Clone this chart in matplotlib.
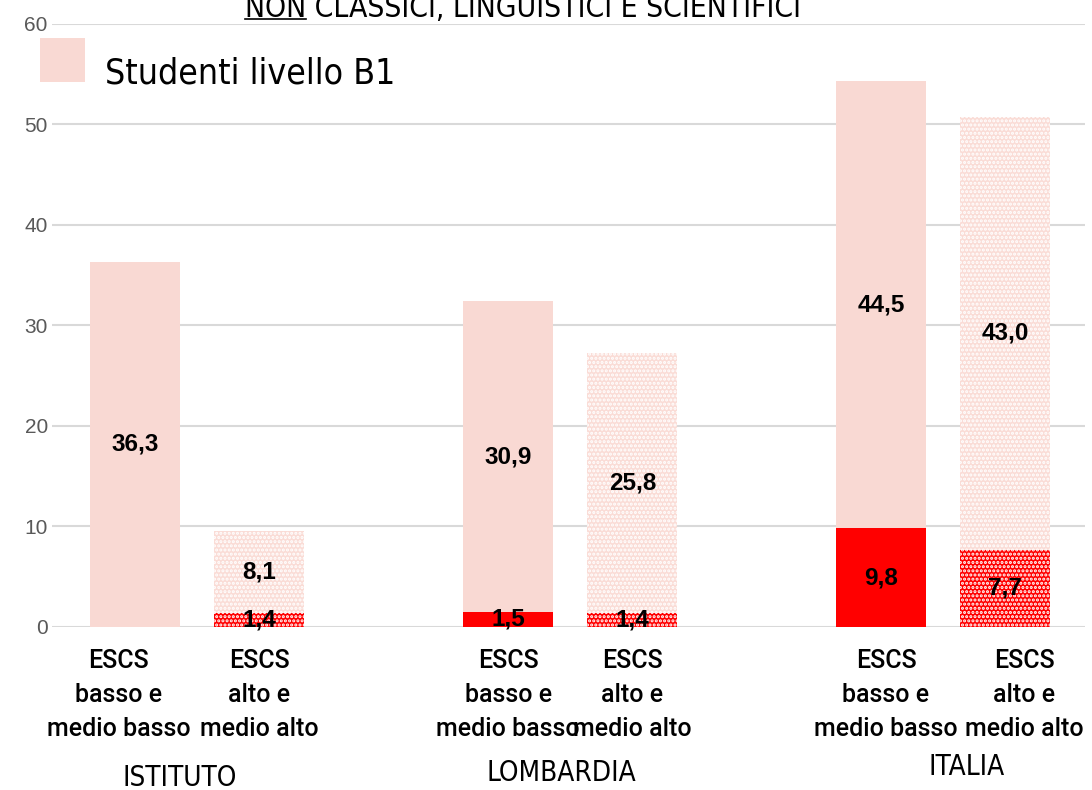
import matplotlib
matplotlib.use("Agg")
import matplotlib.pyplot as plt
from matplotlib.transforms import blended_transform_factory
from matplotlib.patches import Rectangle
import numpy as np

groups = ["ISTITUTO", "LOMBARDIA", "ITALIA"]
bar_labels = ["ESCS\nbasso e\nmedio basso", "ESCS\nalto e\nmedio alto"] * 3
bottom_vals = [0.0, 1.4, 1.5, 1.4, 9.8, 7.7]
top_vals = [36.3, 8.1, 30.9, 25.8, 44.5, 43.0]
hatched = [False, True, False, True, False, True]
yticks = [0, 10, 20, 30, 40, 50, 60]
legend_label = "Studenti livello B1"
title_under = "NON"
title_rest = " CLASSICI, LINGUISTICI E SCIENTIFICI"

PINK = "#F9D9D3"
RED = "#FF0000"
NARROW = dict(family="DejaVu Sans", stretch="condensed")

W, H = 1092, 790
fig = plt.figure(figsize=(W / 100, H / 100), dpi=100)
ax = fig.add_axes([52 / W, 1 - 627 / H, (1085 - 52) / W, (627 - 23.5) / H])

x = np.array([0, 1, 3, 4, 6, 7], dtype=float)
bw = 0.725
plt.rcParams['hatch.linewidth'] = 1.5
for xi, b, t, h in zip(x, bottom_vals, top_vals, hatched):
    if h:
        ax.bar(xi, b, bw, color=RED, edgecolor="white", hatch="....", linewidth=0)
        ax.bar(xi, t, bw, bottom=b, color="#FADCD6", edgecolor="white", hatch="....", linewidth=0)
    else:
        ax.bar(xi, b, bw, color=RED, linewidth=0)
        ax.bar(xi, t, bw, bottom=b, color=PINK, linewidth=0)
    if b > 0:
        ax.text(xi, b / 2, f"{b:.1f}".replace(".", ","), ha="center", va="center",
                fontsize=17.5, fontweight="bold", family="Liberation Sans", color="black")
    ax.text(xi, b + t / 2, f"{t:.1f}".replace(".", ","), ha="center", va="center",
            fontsize=17.5, fontweight="bold", family="Liberation Sans", color="black")

ax.set_xlim(-0.668, 7.64)
ax.set_ylim(0, 60)
ax.set_yticks(yticks)
ax.set_yticklabels([str(v) for v in yticks], fontsize=15, color="#595959", family="Liberation Sans")
ax.tick_params(axis="y", length=0, pad=3)
ax.set_xticks([])
ax.grid(axis="y", color="#D9D9D9", linewidth=1.5)
ax.set_axisbelow(True)
for s in ax.spines.values():
    s.set_visible(False)

# bar category labels
lab_dx = [-0.13, 0, 0, 0, 0.04, 0.15]
for xi, lab, dx in zip(x, bar_labels, lab_dx):
    ax.annotate(lab, xy=(xi + dx, 0), xycoords=("data", "axes fraction"),
                xytext=(0, -16), textcoords="offset points", ha="center", va="top",
                fontsize=18, linespacing=1.52, family="Roboto", fontweight="medium")

# group labels
grp_pos = [(0.36, 778), (3.43, 773), (6.69, 767)]
tr = blended_transform_factory(ax.transData, fig.transFigure)
for g, (gx, gy) in zip(groups, grp_pos):
    ax.text(gx, 1 - gy / H, g, transform=tr, ha="center", va="center",
            fontsize=20, **NARROW)

# title (cut off at top)
full = title_under + title_rest
tt = fig.text(523 / W, 1 - 17 / H, full, ha="center", va="baseline", fontsize=21.5, **NARROW)
fig.canvas.draw()
r = fig.canvas.get_renderer()
bb = tt.get_window_extent(r)
tmp = fig.text(0, 0, title_under, fontsize=21.5, **NARROW)
wu = tmp.get_window_extent(r).width
tmp.remove()
uy = H - 19
fig.add_artist(plt.Line2D([bb.x0 / W, (bb.x0 + wu) / W], [uy / H, uy / H],
                          color="black", linewidth=1.2, transform=fig.transFigure))

# legend
fig.add_artist(Rectangle((40 / W, 1 - 82 / H), 45 / W, 44 / H, transform=fig.transFigure,
                         facecolor=PINK, edgecolor="none"))
fig.text(105 / W, 1 - 74 / H, legend_label, ha="left", va="center", fontsize=25.5, **NARROW)

fig.savefig("out.png", dpi=100)
